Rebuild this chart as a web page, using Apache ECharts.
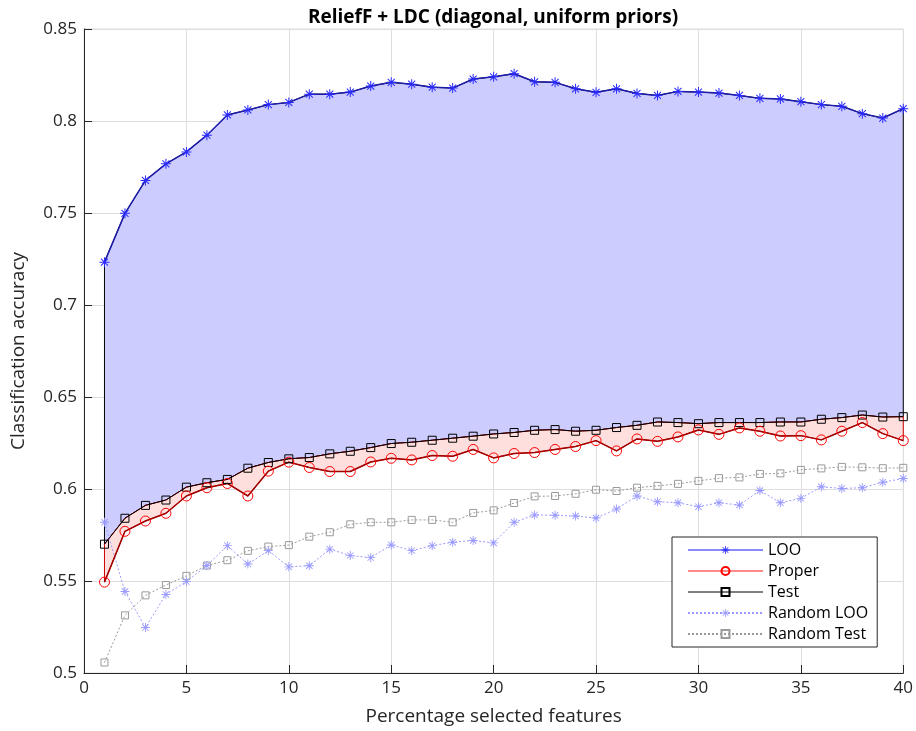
<!DOCTYPE html>
<html>
<head>
<meta charset="utf-8">
<script src="https://cdn.jsdelivr.net/npm/echarts@6/dist/echarts.min.js"></script>
<style>
  html, body { margin: 0; padding: 0; background: #fff; }
  #chart { width: 916px; height: 731px; }
</style>
</head>
<body>
<div id="chart"></div>
<script>
// percentage of selected features, 1..40
const features = [1,2,3,4,5,6,7,8,9,10,11,12,13,14,15,16,17,18,19,20,
                  21,22,23,24,25,26,27,28,29,30,31,32,33,34,35,36,37,38,39,40]

const looAcc = [0.7233,0.7498,0.7677,0.7767,0.7832,0.7923,0.8033,0.8060,0.8089,0.8101,
                0.8146,0.8146,0.8157,0.8190,0.8210,0.8200,0.8184,0.8179,0.8228,0.8240,
                0.8257,0.8213,0.8210,0.8175,0.8156,0.8175,0.8150,0.8139,0.8161,0.8157,
                0.8152,0.8139,0.8123,0.8120,0.8105,0.8089,0.8080,0.8040,0.8016,0.8067]

const properAcc = [0.5494,0.5770,0.5826,0.5868,0.5962,0.6007,0.6030,0.5962,0.6097,0.6146,
                   0.6117,0.6095,0.6095,0.6147,0.6167,0.6158,0.6182,0.6178,0.6215,0.6169,
                   0.6193,0.6198,0.6215,0.6231,0.6263,0.6207,0.6272,0.6259,0.6283,0.6321,
                   0.6297,0.6332,0.6314,0.6288,0.6290,0.6267,0.6314,0.6361,0.6301,0.6263]

const testAcc = [0.5700,0.5841,0.5911,0.5940,0.6010,0.6034,0.6052,0.6113,0.6144,0.6164,
                 0.6171,0.6191,0.6205,0.6225,0.6247,0.6254,0.6265,0.6276,0.6287,0.6299,
                 0.6307,0.6319,0.6323,0.6314,0.6319,0.6334,0.6346,0.6364,0.6361,0.6355,
                 0.6361,0.6361,0.6361,0.6364,0.6364,0.6379,0.6388,0.6402,0.6391,0.6393]

const randomLooAcc = [0.5819,0.5443,0.5247,0.5427,0.5497,0.5584,0.5692,0.5592,0.5665,0.5577,
                      0.5583,0.5673,0.5638,0.5627,0.5696,0.5665,0.5692,0.5711,0.5720,0.5707,
                      0.5819,0.5859,0.5857,0.5853,0.5842,0.5891,0.5962,0.5931,0.5925,0.5904,
                      0.5925,0.5913,0.5992,0.5925,0.5949,0.6012,0.6003,0.6007,0.6037,0.6057]

const randomTestAcc = [0.5057,0.5313,0.5422,0.5478,0.5528,0.5584,0.5613,0.5664,0.5687,0.5695,
                       0.5741,0.5765,0.5808,0.5819,0.5819,0.5832,0.5832,0.5819,0.5870,0.5884,
                       0.5924,0.5960,0.5962,0.5974,0.5996,0.5989,0.6007,0.6017,0.6028,0.6044,
                       0.6059,0.6063,0.6082,0.6085,0.6104,0.6112,0.6120,0.6118,0.6113,0.6115]

const xTicks = { min: 0, max: 40, step: 5 }
const yTicks = { min: 0.5, max: 0.85, step: 0.05 }

const FONT = '"Open Sans", "Noto Sans", sans-serif'
const STAR = 'path://M9,0L11,0L11,20L9,20Z M0,9L20,9L20,11L0,11Z ' +
             'M2.3,3.7L3.7,2.3L17.7,16.3L16.3,17.7Z M16.3,2.3L17.7,3.7L3.7,17.7L2.3,16.3Z'

const pairs = ys => features.map((x, i) => [x, ys[i]])

// filled band between an upper and lower curve
const band = (upper, lower, fill, edge) => ({
  type: 'custom',
  silent: true,
  z: 1,
  data: [0],
  renderItem: (params, api) => {
    const pts = []
    features.forEach((x, i) => pts.push(api.coord([x, upper[i]])))
    for (let i = features.length - 1; i >= 0; i--) pts.push(api.coord([features[i], lower[i]]))
    return {
      type: 'polygon',
      shape: { points: pts },
      style: { fill: fill, stroke: edge, lineWidth: 1 }
    }
  }
})

const chart = echarts.init(document.getElementById('chart'))

chart.setOption({
  animation: false,
  title: {
    text: 'ReliefF + LDC (diagonal, uniform priors)',
    left: 488, top: 3, textAlign: 'center',
    textStyle: { fontFamily: FONT, fontSize: 19, fontWeight: 'bold', color: '#000' }
  },
  grid: {
    left: 84, right: 12, top: 29, bottom: 56,
    show: true, borderColor: '#dcdcdc', borderWidth: 1
  },
  legend: {
    left: 672, top: 537,
    orient: 'vertical',
    itemWidth: 75, itemHeight: 10, itemGap: 5,
    padding: [5, 9, 5, 15],
    backgroundColor: '#fff',
    borderColor: '#262626', borderWidth: 1, borderRadius: 0,
    textStyle: { fontFamily: FONT, fontSize: 16, color: '#000' },
    data: [
      { name: 'LOO', lineStyle: { color: '#8a8aff', width: 2 } },
      { name: 'Proper', lineStyle: { color: '#ff8a8a', width: 2 } },
      { name: 'Test', lineStyle: { width: 1 } },
      { name: 'Random LOO' },
      { name: 'Random Test' }
    ]
  },
  xAxis: {
    type: 'value',
    min: xTicks.min, max: xTicks.max, interval: xTicks.step,
    name: 'Percentage selected features',
    nameLocation: 'middle', nameGap: 34,
    nameTextStyle: { fontFamily: FONT, fontSize: 19, color: '#262626' },
    axisLine: { lineStyle: { color: '#262626' } },
    axisTick: { inside: true, length: 8, lineStyle: { color: '#262626' } },
    axisLabel: { fontFamily: FONT, fontSize: 17, color: '#262626', margin: 7 },
    splitLine: { show: true, lineStyle: { color: '#dedede' } }
  },
  yAxis: {
    type: 'value',
    min: yTicks.min, max: yTicks.max, interval: yTicks.step,
    name: 'Classification accuracy',
    nameLocation: 'middle', nameGap: 56,
    nameTextStyle: { fontFamily: FONT, fontSize: 19, color: '#262626' },
    axisLine: { show: true, lineStyle: { color: '#262626' } },
    axisTick: { show: true, inside: true, length: 8, lineStyle: { color: '#262626' } },
    axisLabel: {
      fontFamily: FONT, fontSize: 17, color: '#262626', margin: 7,
      formatter: v => String(parseFloat(v.toFixed(2)))
    },
    splitLine: { show: true, lineStyle: { color: '#dedede' } }
  },
  series: [
    band(looAcc, testAcc, '#ccccff', '#000'),
    band(testAcc, properAcc, '#ffdede', '#cc0000'),
    {
      name: 'Random Test', type: 'line', data: pairs(randomTestAcc),
      symbol: 'rect', symbolSize: 7,
      itemStyle: { color: 'rgba(0,0,0,0)', borderColor: '#9a9a9a', borderWidth: 1 },
      lineStyle: { color: '#9a9a9a', width: 1, type: [2, 2] }
    },
    {
      name: 'Random LOO', type: 'line', data: pairs(randomLooAcc),
      symbol: STAR, symbolSize: 9,
      itemStyle: { color: '#9a9aff' },
      lineStyle: { color: '#9a9aff', width: 1, type: [2, 2] }
    },
    {
      name: 'Test', type: 'line', data: pairs(testAcc),
      symbol: 'rect', symbolSize: 8,
      itemStyle: { color: 'rgba(0,0,0,0)', borderColor: '#000', borderWidth: 1 },
      lineStyle: { color: '#000', width: 1 }
    },
    {
      name: 'Proper', type: 'line', data: pairs(properAcc),
      symbol: 'circle', symbolSize: 10,
      itemStyle: { color: 'rgba(0,0,0,0)', borderColor: '#ff0000', borderWidth: 1 },
      lineStyle: { color: '#a00000', width: 1.5 }
    },
    {
      name: 'LOO', type: 'line', data: pairs(looAcc),
      symbol: STAR, symbolSize: 10,
      itemStyle: { color: '#2a2aff' },
      lineStyle: { color: '#1c1ca8', width: 1.5 }
    }
  ]
})
</script>
</body>
</html>
